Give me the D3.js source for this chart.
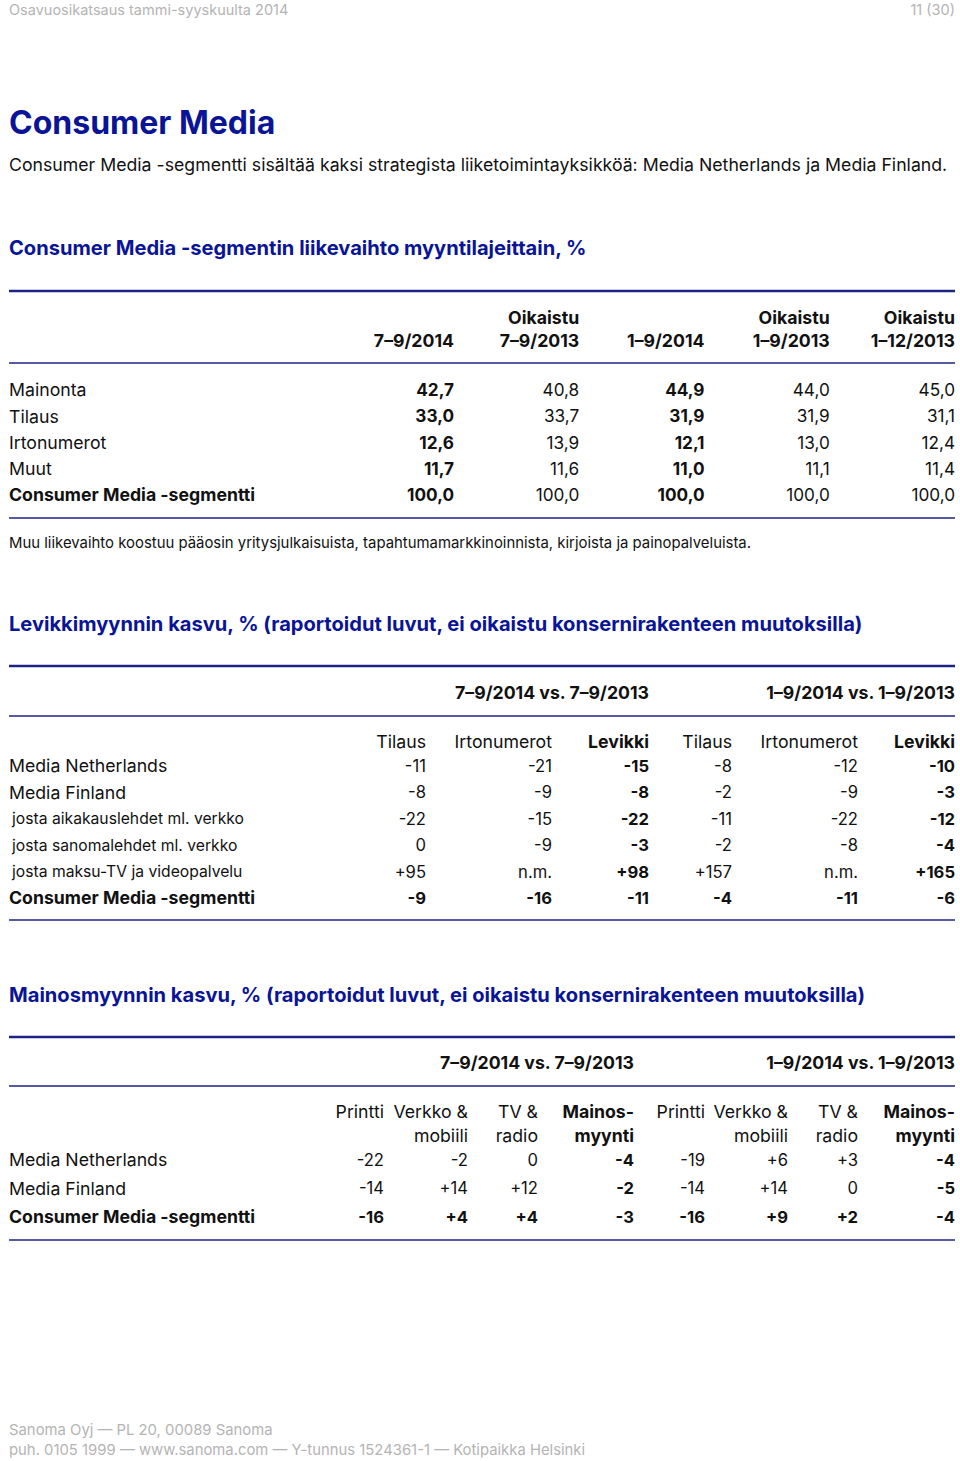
<!DOCTYPE html>
<html><head><meta charset="utf-8">
<script src="https://cdn.jsdelivr.net/npm/d3@7"></script>
<style>
html,body{margin:0;padding:0;background:#fff;}
svg text{font-family:Inter,"Noto Sans",sans-serif;}
</style></head>
<body><svg id="c" width="960" height="1461"></svg>
<script>
// ---------- data ----------
const headerLeft = "Osavuosikatsaus tammi-syyskuulta 2014";
const headerRight = "11 (30)";
const pageTitle = "Consumer Media";
const intro = "Consumer Media -segmentti sisältää kaksi strategista liiketoimintayksikköä: Media Netherlands ja Media Finland.";

const t1Title = "Consumer Media -segmentin liikevaihto myyntilajeittain, %";
const t1Cols = [["", "7–9/2014"], ["Oikaistu", "7–9/2013"], ["", "1–9/2014"], ["Oikaistu", "1–9/2013"], ["Oikaistu", "1–12/2013"]];
const t1Bold = [true, false, true, false, false];
const t1Rows = ["Mainonta", "Tilaus", "Irtonumerot", "Muut", "Consumer Media -segmentti"];
const t1Values = [
  ["42,7", "40,8", "44,9", "44,0", "45,0"],
  ["33,0", "33,7", "31,9", "31,9", "31,1"],
  ["12,6", "13,9", "12,1", "13,0", "12,4"],
  ["11,7", "11,6", "11,0", "11,1", "11,4"],
  ["100,0", "100,0", "100,0", "100,0", "100,0"]
];
const t1Note = "Muu liikevaihto koostuu pääosin yritysjulkaisuista, tapahtumamarkkinoinnista, kirjoista ja painopalveluista.";

const t2Title = "Levikkimyynnin kasvu, % (raportoidut luvut, ei oikaistu konsernirakenteen muutoksilla)";
const t2Groups = ["7–9/2014 vs. 7–9/2013", "1–9/2014 vs. 1–9/2013"];
const t2Cols = ["Tilaus", "Irtonumerot", "Levikki", "Tilaus", "Irtonumerot", "Levikki"];
const t2BoldCols = [false, false, true, false, false, true];
const t2Rows = ["Media Netherlands", "Media Finland", "josta aikakauslehdet ml. verkko", "josta sanomalehdet ml. verkko", "josta maksu-TV ja videopalvelu", "Consumer Media -segmentti"];
const t2Values = [
  ["-11", "-21", "-15", "-8", "-12", "-10"],
  ["-8", "-9", "-8", "-2", "-9", "-3"],
  ["-22", "-15", "-22", "-11", "-22", "-12"],
  ["0", "-9", "-3", "-2", "-8", "-4"],
  ["+95", "n.m.", "+98", "+157", "n.m.", "+165"],
  ["-9", "-16", "-11", "-4", "-11", "-6"]
];

const t3Title = "Mainosmyynnin kasvu, % (raportoidut luvut, ei oikaistu konsernirakenteen muutoksilla)";
const t3Groups = ["7–9/2014 vs. 7–9/2013", "1–9/2014 vs. 1–9/2013"];
const t3Cols = [["Printti", ""], ["Verkko &", "mobiili"], ["TV &", "radio"], ["Mainos-", "myynti"], ["Printti", ""], ["Verkko &", "mobiili"], ["TV &", "radio"], ["Mainos-", "myynti"]];
const t3BoldCols = [false, false, false, true, false, false, false, true];
const t3Rows = ["Media Netherlands", "Media Finland", "Consumer Media -segmentti"];
const t3Values = [
  ["-22", "-2", "0", "-4", "-19", "+6", "+3", "-4"],
  ["-14", "+14", "+12", "-2", "-14", "+14", "0", "-5"],
  ["-16", "+4", "+4", "-3", "-16", "+9", "+2", "-4"]
];

const footer = ["Sanoma Oyj — PL 20, 00089 Sanoma", "puh. 0105 1999 — www.sanoma.com — Y-tunnus 1524361-1 — Kotipaikka Helsinki"];

// ---------- drawing ----------
const NAVY = "#0a1496", LINE = "#1d2382", GRAY = "#b4b4b4", TXT = "#111";
const BODY = 17.7, NUM = 16.6, SEC = 20.1;
const svg = d3.select("#c");
const L = 9, R = 955;

function txt(x, y, s, o = {}) {
  return svg.append("text").attr("x", x).attr("y", y).attr("dy", "0.36em")
    .attr("font-size", o.size || BODY).attr("font-weight", o.weight || 400)
    .attr("fill", o.fill || TXT).attr("text-anchor", o.anchor || "start").text(s);
}
function hline(y, w) {
  svg.append("line").attr("x1", L).attr("x2", R).attr("y1", y).attr("y2", y)
    .attr("stroke", LINE).attr("stroke-width", w);
}

txt(L, 10, headerLeft, {size: 14.5, fill: GRAY});
txt(R, 10, headerRight, {size: 14.5, fill: GRAY, anchor: "end"});
txt(L, 122, pageTitle, {size: 32, weight: 700, fill: NAVY});
txt(L, 165, intro);

// ===== Table 1 =====
txt(L, 248, t1Title, {size: SEC, weight: 700, fill: NAVY});
hline(291, 2.5);
const x1 = d3.scaleLinear().domain([0, t1Cols.length - 1]).range([454, R]);
const y1 = d3.scalePoint().domain(t1Rows).range([390, 495]);
t1Cols.forEach((c, i) => {
  if (c[0]) txt(x1(i), 318, c[0], {weight: 700, anchor: "end"});
  txt(x1(i), 341, c[1], {weight: 700, anchor: "end"});
});
hline(363, 1.5);
t1Rows.forEach((r, ri) => {
  const last = ri === t1Rows.length - 1;
  txt(L, y1(r), r, {weight: last ? 700 : 400});
  t1Values[ri].forEach((v, ci) => txt(x1(ci), y1(r), v, {weight: t1Bold[ci] ? 700 : 400, anchor: "end", size: NUM + 0.6}));
});
hline(518, 1.5);
txt(L, 543, t1Note, {size: 14.9});

// ===== Table 2 =====
txt(L, 624, t2Title, {size: SEC, weight: 700, fill: NAVY});
hline(666, 2.5);
const w2 = [0, 126, 97, 83, 126, 97]; // spacing between column right edges
const x2 = d3.scaleLinear().domain([0, d3.sum(w2)]).range([426, 426 + d3.sum(w2)]);
const cx2 = Array.from(d3.cumsum(w2)).map(v => x2(v));
t2Groups.forEach((g, gi) => txt(cx2[gi * 3 + 2], 693, g, {weight: 700, anchor: "end"}));
hline(716, 1.5);
t2Cols.forEach((c, i) => txt(cx2[i], 742, c, {weight: t2BoldCols[i] ? 700 : 400, anchor: "end"}));
const y2 = d3.scalePoint().domain(t2Rows).range([766, 898]);
t2Rows.forEach((r, ri) => {
  const last = ri === t2Rows.length - 1;
  const sub = r.startsWith("josta");
  txt(sub ? L + 3 : L, y2(r), r, {weight: last ? 700 : 400, size: sub ? 15.7 : BODY});
  t2Values[ri].forEach((v, ci) => txt(cx2[ci], y2(r), v, {weight: (last || t2BoldCols[ci]) ? 700 : 400, anchor: "end", size: NUM}));
});
hline(920, 1.5);

// ===== Table 3 =====
txt(L, 995, t3Title, {size: SEC, weight: 700, fill: NAVY});
hline(1037, 2.5);
const w3 = [0, 84, 70, 96, 71, 83, 70, 97];
const x3 = d3.scaleLinear().domain([0, d3.sum(w3)]).range([384, 384 + d3.sum(w3)]);
const cx3 = Array.from(d3.cumsum(w3)).map(v => x3(v));
t3Groups.forEach((g, gi) => txt(cx3[gi * 4 + 3], 1063, g, {weight: 700, anchor: "end"}));
hline(1086, 1.5);
t3Cols.forEach((c, i) => {
  txt(cx3[i], 1112, c[0], {weight: t3BoldCols[i] ? 700 : 400, anchor: "end"});
  if (c[1]) txt(cx3[i], 1136, c[1], {weight: t3BoldCols[i] ? 700 : 400, anchor: "end"});
});
const y3 = d3.scalePoint().domain(t3Rows).range([1160, 1217]);
t3Rows.forEach((r, ri) => {
  const last = ri === t3Rows.length - 1;
  txt(L, y3(r), r, {weight: last ? 700 : 400});
  t3Values[ri].forEach((v, ci) => txt(cx3[ci], y3(r), v, {weight: (last || t3BoldCols[ci]) ? 700 : 400, anchor: "end", size: NUM}));
});
hline(1240, 1.5);

// footer
footer.forEach((f, i) => txt(L, 1430 + i * 20, f, {size: 14.85, fill: GRAY}));
</script></body></html>
